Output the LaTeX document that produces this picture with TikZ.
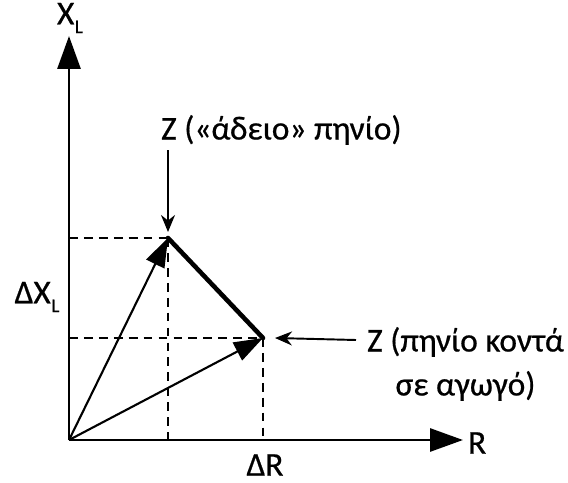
\documentclass[tikz,border=0pt]{standalone}
\usepackage{fontspec}
\setmainfont{Carlito}
\newfontfamily\lblfont{Carlito}[FakeBold=0.6]
\usetikzlibrary{arrows.meta,positioning,calc}
\newcommand{\subL}{\kern0.3pt\raisebox{-0.55ex}{\fontsize{11}{11}\selectfont L}}
\tikzset{
  axis/.style={line width=1.7pt, -{Triangle[length=6.6mm,width=4.6mm]}},
  phasor/.style={line width=1.2pt, -{Triangle[length=5.8mm,width=4mm]}},
  guide/.style={line width=1.3pt, dash pattern=on 5pt off 3.5pt},
  locus/.style={line width=2.6pt},
  pointer/.style={line width=1.1pt, -{Stealth[length=3.4mm,width=2.8mm]}},
  lbl/.style={font=\lblfont\fontsize{19}{25}\selectfont, inner sep=1pt},
}
\begin{document}
\begin{tikzpicture}[x=0.02cm,y=-0.02cm]
  \useasboundingbox (0,0) rectangle (568,483);
  % points
  \coordinate (O) at (69,440);
  \coordinate (A) at (168,238);
  \coordinate (B) at (263,338);
  \coordinate (Ytop) at (69,36);
  \coordinate (Xend) at (463,440);
  % guides
  \draw[guide] (O |- A) -- (A);
  \draw[guide] (A) -- (A |- O);
  \draw[guide] (O |- B) -- (B);
  \draw[guide] (B) -- (B |- O);
  % axes
  \draw[axis] (O) -- (Ytop);
  \draw[axis] (O) -- (Xend);
  % phasors
  \draw[phasor] (O) -- (A);
  \draw[phasor] (O) -- (B);
  \draw[locus, line cap=round] (A) -- (B);
  % labels
  \node[lbl] (xl) at (70,18) {X\subL};
  \node[lbl, anchor=west] (r) at (466,443) {R};
  \node[lbl] (dr) at (265,465) {ΔR};
  \node[lbl] (dxl) at (37,297) {ΔX\subL};
  \node[lbl, anchor=west] (zempty) at (159,130) {Z («άδειο» πηνίο)};
  \node[lbl, anchor=north west, align=center] (zcond) at (365,325) {Z (πηνίο κοντά\\σε αγωγό)};
  \coordinate (pA) at (168,150);
  \coordinate (pB) at (356,340);
  \draw[pointer] (pA) -- ($(A)+(0,-6)$);
  \draw[pointer] (pB) -- ($(B)+(12,0)$);
\end{tikzpicture}
\end{document}
